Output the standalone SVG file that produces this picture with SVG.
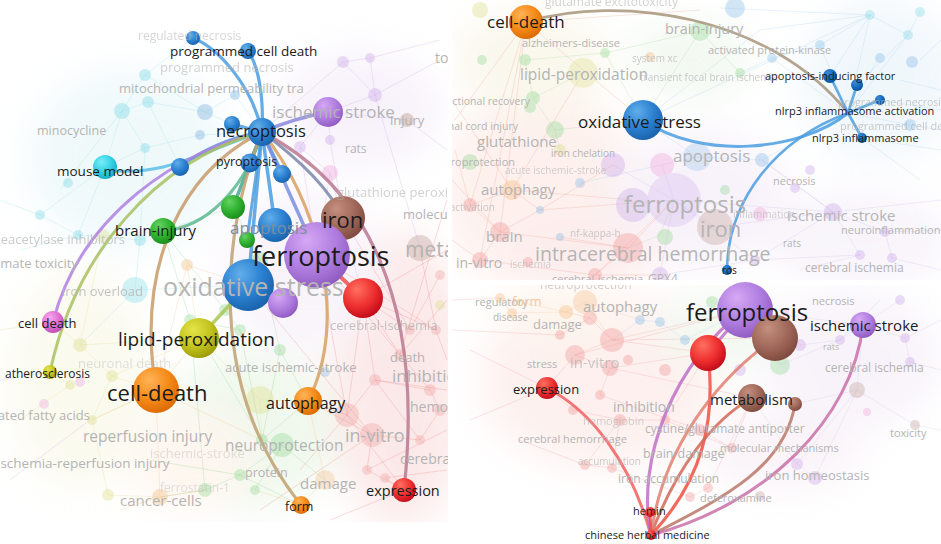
<svg xmlns="http://www.w3.org/2000/svg" width="941" height="544" viewBox="0 0 941 544">
<defs>
<style>
.lb{font-family:"Open Sans","DejaVu Sans",sans-serif;fill:#1b1b1b}
.fd{font-family:"Open Sans","DejaVu Sans",sans-serif;fill:#b4b4b4}
.e{fill:none;stroke-linecap:round;opacity:.85}
.bl{fill:none;stroke-width:.8;opacity:.35}
.fc{opacity:.35}
.hz{opacity:.45}
</style>
<filter id="blur" x="-50%" y="-50%" width="200%" height="200%"><feGaussianBlur stdDeviation="18"/></filter>
<clipPath id="cL"><rect x="0" y="0" width="448" height="522"/></clipPath>
<clipPath id="cTR"><rect x="452" y="0" width="489" height="280"/></clipPath>
<clipPath id="cBR"><rect x="452" y="285" width="489" height="259"/></clipPath>
<radialGradient id="gB" cx=".38" cy=".32" r=".75" fx=".35" fy=".28"><stop offset="0" stop-color="#62aeea"/><stop offset=".55" stop-color="#2a80d0"/><stop offset="1" stop-color="#185ea6"/></radialGradient>
<radialGradient id="gDB" cx=".38" cy=".32" r=".75" fx=".35" fy=".28"><stop offset="0" stop-color="#3b8ad6"/><stop offset=".6" stop-color="#1466bc"/><stop offset="1" stop-color="#0a4a90"/></radialGradient>
<radialGradient id="gP" cx=".38" cy=".32" r=".75" fx=".35" fy=".28"><stop offset="0" stop-color="#d6a8f4"/><stop offset=".55" stop-color="#b07ee0"/><stop offset="1" stop-color="#8c56bc"/></radialGradient>
<radialGradient id="gBr" cx=".38" cy=".32" r=".75" fx=".35" fy=".28"><stop offset="0" stop-color="#c4907e"/><stop offset=".55" stop-color="#a0685a"/><stop offset="1" stop-color="#7a463a"/></radialGradient>
<radialGradient id="gR" cx=".38" cy=".32" r=".75" fx=".35" fy=".28"><stop offset="0" stop-color="#ff7060"/><stop offset=".55" stop-color="#ee3030"/><stop offset="1" stop-color="#bc0616"/></radialGradient>
<radialGradient id="gO" cx=".38" cy=".32" r=".75" fx=".35" fy=".28"><stop offset="0" stop-color="#ffb458"/><stop offset=".55" stop-color="#f58a18"/><stop offset="1" stop-color="#d86600"/></radialGradient>
<radialGradient id="gG" cx=".38" cy=".32" r=".75" fx=".35" fy=".28"><stop offset="0" stop-color="#62d462"/><stop offset=".55" stop-color="#2fb02f"/><stop offset="1" stop-color="#188818"/></radialGradient>
<radialGradient id="gY" cx=".38" cy=".32" r=".75" fx=".35" fy=".28"><stop offset="0" stop-color="#e4e448"/><stop offset=".55" stop-color="#c4c420"/><stop offset="1" stop-color="#969606"/></radialGradient>
<radialGradient id="gC" cx=".38" cy=".32" r=".75" fx=".35" fy=".28"><stop offset="0" stop-color="#78eef6"/><stop offset=".55" stop-color="#36d0e6"/><stop offset="1" stop-color="#14a6be"/></radialGradient>
<radialGradient id="gPk" cx=".38" cy=".32" r=".75" fx=".35" fy=".28"><stop offset="0" stop-color="#f6a8ee"/><stop offset=".55" stop-color="#e070d4"/><stop offset="1" stop-color="#bc48b0"/></radialGradient>
</defs>
<rect width="941" height="544" fill="#fff"/>

<!-- ============ LEFT PANEL BACKGROUND ============ -->
<g id="bg-left" clip-path="url(#cL)">
 <g filter="url(#blur)" class="hz">
  <ellipse cx="400" cy="380" rx="70" ry="150" fill="#f8d0d0"/>
  <ellipse cx="250" cy="430" rx="90" ry="80" fill="#dff0d8"/>
  <ellipse cx="130" cy="160" rx="100" ry="90" fill="#ddf3f6"/>
  <ellipse cx="360" cy="110" rx="80" ry="60" fill="#efe4f6"/>
  <ellipse cx="80" cy="380" rx="70" ry="110" fill="#f6f4dc"/>
  <ellipse cx="190" cy="460" rx="60" ry="50" fill="#fcecdc"/>
  <ellipse cx="300" cy="270" rx="80" ry="80" fill="#f1e8f6"/>
 </g>
 <path class="bl" stroke="#f08080" d="M363,298 L410,330 M363,298 L400,355 M363,298 L436,330 M363,298 L375,380 M375,380 L347,415 M375,380 L430,390 M347,415 L372,435 M372,435 L420,440 M372,435 L367,470 M367,470 L404,490 M385,478 L404,490 M420,440 L440,410 M430,390 L440,410 M400,355 L430,390 M347,415 L300,470 M372,435 L260,510 M404,490 L330,520 M410,330 L440,275 M436,330 L447,360 M317,255 L400,355 M317,255 L436,330 M343,218 L410,330 M347,415 L404,490 M375,380 L420,440 M420,250 L436,330 M363,298 L347,415 M317,255 L347,415 M248,285 L372,435 M400,355 L447,300 M385,478 L447,470 M367,470 L447,430 M308,401 L347,415 M308,401 L372,435 M447,250 L363,298 M447,200 L400,355 M447,390 L375,380"/>
 <path class="bl" stroke="#8fd08f" d="M233,207 L260,260 M260,260 L225,310 M225,310 L240,330 M240,330 L190,320 M260,260 L280,350 M280,350 L262,440 M262,440 L282,445 M282,445 L240,475 M240,475 L205,490 M255,490 L282,445 M163,231 L190,320 M163,231 L225,310 M247,240 L260,260 M240,330 L262,440 M190,320 L205,490 M282,445 L325,480 M262,440 L308,401 M225,310 L199,338 M280,350 L308,401 M240,475 L300,505 M205,490 L160,497 M233,207 L163,231 M190,320 L262,440 M150,460 L240,475"/>
 <path class="bl" stroke="#9adfe8" d="M145,75 L122,111 M122,111 L148,102 M148,102 L205,112 M205,112 L235,95 M122,111 L145,148 M145,148 L200,135 M200,135 L262,132 M105,167 L145,148 M40,215 L78,235 M78,235 L140,240 M140,240 L135,290 M105,167 L40,215 M105,167 L78,235 M145,148 L140,240 M135,290 L248,285 M122,111 L105,167 M235,95 L262,132 M145,75 L193,38 M205,112 L232,124 M20,250 L78,235 M0,200 L40,215 M135,290 L80,345 M140,240 L163,231 M148,102 L180,167 M145,75 L205,112 M60,190 L122,111"/>
 <path class="bl" stroke="#c8a8e0" d="M343,62 L370,58 M343,62 L375,95 M370,58 L375,95 M375,95 L328,112 M300,147 L328,112 M330,140 L328,112 M375,95 L440,60 M370,58 L440,40 M328,112 L407,120 M300,147 L317,255 M330,140 L343,218 M375,95 L420,248 M330,173 L317,255 M343,62 L262,132 M407,120 L447,150 M330,173 L300,147 M330,173 L363,298 M10,480 L90,420 M0,380 L50,372"/>
 <path class="bl" stroke="#dede90" d="M103,236 L80,345 M80,345 L112,376 M112,376 L92,420 M92,420 L108,495 M70,385 L50,372 M112,376 L156,390 M80,345 L53,322 M199,338 L260,400 M260,400 L308,401 M103,236 L163,231 M92,420 L156,390 M108,495 L160,497 M199,338 L112,376 M260,400 L262,440 M70,385 L20,420 M0,330 L53,322 M80,345 L199,338"/>
 <path class="bl" stroke="#f5c088" d="M187,265 L199,338 M187,265 L156,390 M156,390 L160,497 M160,497 L205,490 M156,390 L199,338 M325,480 L301,505 M325,480 L308,401 M187,265 L248,285 M160,497 L120,510 M156,390 L262,440 M301,505 L255,490 M156,390 L92,420"/>
 <g class="fc">
  <circle cx="145" cy="75" r="6" fill="#6fd6e4"/><circle cx="122" cy="111" r="8" fill="#6fd6e4"/><circle cx="148" cy="102" r="6" fill="#6fd6e4"/><circle cx="205" cy="112" r="8" fill="#6aa8d8"/><circle cx="235" cy="95" r="5" fill="#6aa8d8"/><circle cx="145" cy="148" r="5" fill="#6fd6e4"/><circle cx="200" cy="135" r="5" fill="#6aa8d8"/><circle cx="135" cy="290" r="13" fill="#7fdcea"/><circle cx="40" cy="215" r="5" fill="#6fd6e4"/><circle cx="78" cy="235" r="5" fill="#6fd6e4"/><circle cx="140" cy="240" r="6" fill="#6fd6e4"/><circle cx="68" cy="183" r="5" fill="#6fd6e4"/>
  <circle cx="343" cy="62" r="6" fill="#c8a0e8"/><circle cx="370" cy="58" r="5" fill="#c8a0e8"/><circle cx="375" cy="95" r="7" fill="#c8a0e8"/><circle cx="300" cy="147" r="6" fill="#c8a0e8"/><circle cx="330" cy="140" r="5" fill="#c8a0e8"/><circle cx="330" cy="173" r="8" fill="#f09ad8"/><circle cx="407" cy="120" r="7" fill="#b08878"/><circle cx="420" cy="248" r="13" fill="#b89890"/>
  <circle cx="260" cy="260" r="8" fill="#8ed88e"/><circle cx="225" cy="310" r="6" fill="#8ed88e"/><circle cx="240" cy="330" r="6" fill="#8ed88e"/><circle cx="190" cy="320" r="6" fill="#8ed88e"/><circle cx="280" cy="350" r="6" fill="#8ed88e"/><circle cx="262" cy="440" r="6" fill="#8ed88e"/><circle cx="282" cy="445" r="12" fill="#8ed88e"/><circle cx="240" cy="475" r="6" fill="#8ed88e"/><circle cx="205" cy="490" r="7" fill="#8ed88e"/><circle cx="255" cy="490" r="5" fill="#8ed88e"/>
  <circle cx="347" cy="415" r="12" fill="#f0a0a0"/><circle cx="372" cy="435" r="12" fill="#f0a0a0"/><circle cx="375" cy="380" r="6" fill="#f0a0a0"/><circle cx="400" cy="355" r="6" fill="#f0a0a0"/><circle cx="410" cy="330" r="5" fill="#f0a0a0"/><circle cx="367" cy="470" r="5" fill="#f0a0a0"/><circle cx="430" cy="390" r="6" fill="#f0a0a0"/><circle cx="440" cy="410" r="6" fill="#f0a0a0"/><circle cx="420" cy="440" r="5" fill="#f0a0a0"/><circle cx="385" cy="478" r="5" fill="#f0a0a0"/><circle cx="436" cy="330" r="5" fill="#f0a0a0"/><circle cx="440" cy="275" r="5" fill="#f0a0a0"/><circle cx="440" cy="305" r="5" fill="#dcdc80"/>
  <circle cx="260" cy="400" r="14" fill="#dcdc80"/><circle cx="103" cy="236" r="7" fill="#dcdc80"/><circle cx="80" cy="345" r="7" fill="#dcdc80"/><circle cx="112" cy="376" r="6" fill="#dcdc80"/><circle cx="92" cy="420" r="5" fill="#dcdc80"/><circle cx="108" cy="495" r="6" fill="#dcdc80"/><circle cx="70" cy="385" r="5" fill="#dcdc80"/><circle cx="80" cy="382" r="5" fill="#f0a0e0"/><circle cx="44" cy="404" r="5" fill="#f0a0e0"/>
  <circle cx="187" cy="265" r="6" fill="#f5b878"/><circle cx="160" cy="497" r="8" fill="#f5b878"/><circle cx="325" cy="480" r="10" fill="#f5c090"/><circle cx="325" cy="372" r="5" fill="#80b8e8"/>
 </g>
</g>

<!-- ============ TOP RIGHT BACKGROUND ============ -->
<g id="bg-topright" clip-path="url(#cTR)">
 <g filter="url(#blur)" class="hz">
  <ellipse cx="540" cy="190" rx="100" ry="100" fill="#fbe0d8"/>
  <ellipse cx="530" cy="60" rx="80" ry="50" fill="#f4f0d8"/>
  <ellipse cx="700" cy="200" rx="90" ry="70" fill="#f0e4f4"/>
  <ellipse cx="880" cy="80" rx="80" ry="80" fill="#e0eef8"/>
  <ellipse cx="860" cy="240" rx="90" ry="50" fill="#f0e8f6"/>
  <ellipse cx="690" cy="60" rx="60" ry="40" fill="#e4f2e0"/>
  <ellipse cx="580" cy="255" rx="80" ry="40" fill="#fad8d8"/>
 </g>
 <path class="bl" stroke="#f0a090" d="M470,205 L500,232 M500,232 L480,260 M500,232 L540,210 M540,210 L512,190 M470,205 L512,190 M480,260 L595,275 M500,232 L628,248 M628,248 L595,275 M628,248 L674,200 M512,190 L583,73 M470,205 L455,150 M480,260 L452,240 M595,275 L660,275 M628,248 L560,237 M540,210 L613,165 M500,232 L526,22 M480,260 L526,22 M455,120 L526,22 M470,205 L526,22 M512,190 L633,200 M540,210 L674,200 M595,275 L674,200 M452,180 L500,232 M452,100 L512,190 M526,22 L643,120 M526,22 L700,10"/>
 <path class="bl" stroke="#a8d8a0" d="M525,60 L533,98 M533,98 L555,130 M555,130 L560,150 M525,60 L605,53 M605,53 L700,31 M700,31 L740,73 M555,130 L643,120 M605,53 L643,120 M660,235 L674,200 M660,235 L628,248 M533,98 L583,73 M700,31 L643,120"/>
 <path class="bl" stroke="#a8d0f0" d="M870,15 L908,35 M908,35 L920,12 M870,15 L820,45 M820,45 L772,58 M772,58 L740,73 M848,113 L870,15 M848,113 L820,45 M848,113 L908,35 M848,113 L772,58 M880,55 L848,113 M697,157 L762,160 M762,160 L848,113 M697,157 L643,120 M697,157 L580,183 M920,60 L941,40 M900,80 L941,90 M830,76 L870,15 M857,85 L908,35 M880,100 L941,110 M862,138 L941,150 M862,138 L920,180 M762,160 L833,212 M643,120 L870,15 M643,120 L760,30 M760,30 L870,15 M720,8 L870,15 M910,125 L941,130 M910,125 L848,113"/>
 <path class="bl" stroke="#d4b8e8" d="M833,212 L885,232 M885,232 L892,258 M860,255 L833,212 M833,212 L755,260 M755,260 L674,200 M833,212 L674,200 M833,212 L941,200 M892,258 L941,270 M860,255 L755,260 M674,200 L613,165 M674,200 L660,275 M660,275 L755,260 M833,212 L762,160 M885,232 L941,230 M800,270 L860,255 M715,227 L833,212 M715,227 L674,200 M662,165 L674,200"/>
 <g class="fc">
  <circle cx="480" cy="10" r="8" fill="#dcdc80"/><circle cx="482" cy="60" r="5" fill="#8ed88e"/><circle cx="525" cy="60" r="6" fill="#8ed88e"/><circle cx="533" cy="98" r="7" fill="#8ed88e"/><circle cx="583" cy="73" r="15" fill="#e0e090"/><circle cx="605" cy="53" r="5" fill="#8ed88e"/><circle cx="650" cy="57" r="5" fill="#f5b878"/><circle cx="700" cy="31" r="10" fill="#8ed88e"/><circle cx="740" cy="73" r="5" fill="#8ed88e"/><circle cx="772" cy="58" r="5" fill="#80b8e8"/><circle cx="820" cy="45" r="5" fill="#80c0e8"/><circle cx="735" cy="8" r="10" fill="#80b8e8"/><circle cx="870" cy="15" r="5" fill="#80d8e8"/><circle cx="908" cy="35" r="5" fill="#80d8e8"/><circle cx="920" cy="12" r="5" fill="#80d8e8"/><circle cx="910" cy="125" r="6" fill="#80b8e8"/><circle cx="912" cy="62" r="6" fill="#80b8e8"/><circle cx="880" cy="58" r="5" fill="#80b8e8"/>
  <circle cx="555" cy="130" r="9" fill="#8ed88e"/><circle cx="530" cy="107" r="6" fill="#8ed88e"/><circle cx="470" cy="162" r="8" fill="#8ed88e"/><circle cx="560" cy="150" r="6" fill="#dcdc80"/><circle cx="580" cy="183" r="5" fill="#80b8e8"/><circle cx="613" cy="165" r="12" fill="#c8a0e8"/><circle cx="662" cy="165" r="12" fill="#f0a0d8"/><circle cx="697" cy="157" r="14" fill="#a0c8ea"/><circle cx="762" cy="160" r="7" fill="#80b8e8"/><circle cx="674" cy="200" r="27" fill="#d4b8ec"/><circle cx="633" cy="205" r="17" fill="#c8a8e8"/><circle cx="725" cy="190" r="5" fill="#8ed88e"/><circle cx="665" cy="237" r="8" fill="#8ed88e"/><circle cx="715" cy="227" r="18" fill="#c0a098"/><circle cx="628" cy="248" r="15" fill="#f09090"/><circle cx="560" cy="237" r="4" fill="#80b8e8"/><circle cx="540" cy="210" r="4" fill="#80b8e8"/><circle cx="512" cy="190" r="10" fill="#f5b878"/><circle cx="470" cy="205" r="7" fill="#f09090"/><circle cx="500" cy="232" r="10" fill="#f09090"/><circle cx="480" cy="260" r="8" fill="#f09090"/><circle cx="595" cy="275" r="7" fill="#f09090"/><circle cx="528" cy="262" r="5" fill="#f09090"/>
  <circle cx="760" cy="214" r="7" fill="#f0a0d8"/><circle cx="833" cy="212" r="9" fill="#c8a0e8"/><circle cx="885" cy="232" r="5" fill="#c8a0e8"/><circle cx="860" cy="255" r="5" fill="#c8a0e8"/><circle cx="892" cy="258" r="5" fill="#c8a0e8"/><circle cx="755" cy="260" r="5" fill="#c8a0e8"/><circle cx="660" cy="275" r="8" fill="#c8a0e8"/><circle cx="795" cy="188" r="5" fill="#c8a0e8"/><circle cx="810" cy="170" r="5" fill="#c8a0e8"/>
 </g>
</g>

<!-- ============ BOTTOM RIGHT BACKGROUND ============ -->
<g id="bg-bottomright" clip-path="url(#cBR)">
 <g filter="url(#blur)" class="hz">
  <ellipse cx="600" cy="380" rx="120" ry="90" fill="#fbe0dc"/>
  <ellipse cx="560" cy="310" rx="60" ry="30" fill="#fbead8"/>
  <ellipse cx="850" cy="360" rx="90" ry="70" fill="#f0e6f4"/>
  <ellipse cx="720" cy="330" rx="60" ry="40" fill="#e4f0e0"/>
  <ellipse cx="780" cy="450" rx="80" ry="40" fill="#f4e6f0"/>
 </g>
 <path class="bl" stroke="#f0a0a0" d="M547,388 L575,355 M575,355 L612,340 M612,340 L708,353 M575,355 L610,368 M610,368 L708,353 M590,318 L612,340 M547,388 L573,410 M573,410 L620,420 M620,420 L665,420 M665,420 L708,353 M600,395 L610,368 M620,420 L585,465 M585,465 L612,468 M612,468 L690,497 M690,497 L708,488 M708,488 L752,398 M560,335 L590,318 M566,312 L590,318 M612,340 L745,310 M575,355 L745,310 M547,388 L470,350 M547,388 L470,420 M520,440 L585,465 M700,430 L732,448 M732,448 L752,398 M665,420 L732,448 M600,395 L700,430 M452,330 L560,335 M452,300 L500,298 M620,420 L612,468 M612,340 L775,338 M610,368 L752,398"/>
 <path class="bl" stroke="#f5c8a0" d="M500,298 L512,313 M512,313 L566,312 M566,312 L585,302 M585,302 L640,320 M500,298 L566,312 M585,302 L612,340"/>
 <path class="bl" stroke="#d8c0e8" d="M863,325 L905,338 M905,338 L910,362 M863,325 L900,300 M863,325 L840,340 M840,340 L800,345 M800,345 L775,338 M863,325 L857,390 M857,390 L915,425 M857,390 L797,464 M797,464 L815,478 M815,478 L857,390 M910,362 L941,370 M905,338 L941,320 M863,325 L745,310 M857,390 L795,404 M915,425 L941,430 M780,365 L745,310 M780,365 L840,340 M797,464 L752,398"/>
 <path class="bl" stroke="#b0d0f0" d="M640,320 L660,322 M660,322 L685,340 M685,340 L745,310 M640,320 L612,340 M840,340 L880,300"/>
 <g class="fc">
  <circle cx="500" cy="298" r="5" fill="#f5b878"/><circle cx="512" cy="313" r="5" fill="#f5b878"/><circle cx="566" cy="312" r="7" fill="#f5b878"/><circle cx="585" cy="302" r="12" fill="#f5c090"/><circle cx="590" cy="318" r="7" fill="#f09090"/><circle cx="640" cy="320" r="5" fill="#80b8e8"/><circle cx="660" cy="322" r="5" fill="#80b8e8"/><circle cx="685" cy="340" r="5" fill="#80b8e8"/><circle cx="712" cy="302" r="6" fill="#8ed88e"/><circle cx="612" cy="340" r="12" fill="#f09090"/><circle cx="560" cy="335" r="5" fill="#f09090"/><circle cx="575" cy="355" r="10" fill="#f09090"/><circle cx="610" cy="368" r="8" fill="#f09090"/><circle cx="628" cy="360" r="5" fill="#f09090"/><circle cx="665" cy="370" r="6" fill="#f09090"/><circle cx="800" cy="345" r="6" fill="#c8a0e8"/><circle cx="840" cy="340" r="5" fill="#c8a0e8"/><circle cx="905" cy="338" r="5" fill="#c8a0e8"/><circle cx="910" cy="362" r="5" fill="#c8a0e8"/><circle cx="900" cy="300" r="5" fill="#c8a0e8"/><circle cx="780" cy="365" r="10" fill="#8ed88e"/><circle cx="740" cy="370" r="6" fill="#c8a0e8"/><circle cx="573" cy="410" r="5" fill="#f09090"/><circle cx="600" cy="395" r="5" fill="#f09090"/><circle cx="620" cy="420" r="6" fill="#f09090"/><circle cx="665" cy="420" r="5" fill="#f09090"/><circle cx="700" cy="430" r="6" fill="#f09090"/><circle cx="732" cy="448" r="5" fill="#f09090"/><circle cx="857" cy="390" r="8" fill="#c0a098"/><circle cx="915" cy="425" r="5" fill="#c0a098"/><circle cx="797" cy="464" r="6" fill="#c8a0e8"/><circle cx="815" cy="478" r="7" fill="#c8a0e8"/><circle cx="585" cy="465" r="5" fill="#f09090"/><circle cx="612" cy="468" r="5" fill="#f09090"/><circle cx="708" cy="488" r="5" fill="#f09090"/><circle cx="690" cy="497" r="5" fill="#f09090"/><circle cx="760" cy="496" r="5" fill="#c0a098"/><circle cx="785" cy="312" r="4" fill="#f0a0d8"/><circle cx="867" cy="412" r="4" fill="#f0a0d8"/>
 </g>
</g>

<!-- ============ CONNECTORS ============ -->
<g id="connectors">
 <g clip-path="url(#cL)">
  <path class="e" stroke="#4a9ee0" stroke-width="3.2" d="M262,132 C252,85 218,48 193,38"/>
  <path class="e" stroke="#4a9ee0" stroke-width="3.2" d="M262,132 C264,95 258,65 248,51"/>
  <path class="e" stroke="#8a88dc" stroke-width="3.5" d="M262,132 Q295,118 328,112"/>
  <path class="e" stroke="#4a9ee0" stroke-width="3" d="M262,132 L232,124"/>
  <path class="e" stroke="#5cc0e8" stroke-width="3" d="M262,132 C205,150 165,178 105,170"/>
  <path class="e" stroke="#4a9ee0" stroke-width="3" d="M262,132 Q215,140 180,167"/>
  <path class="e" stroke="#4a9ee0" stroke-width="3.5" d="M262,132 L250,163"/>
  <path class="e" stroke="#4a9ee0" stroke-width="3.5" d="M262,132 L282,173"/>
  <path class="e" stroke="#48a890" stroke-width="3.5" d="M262,132 L233,207"/>
  <path class="e" stroke="#4a9ee0" stroke-width="3.5" d="M262,132 L275,225"/>
  <path class="e" stroke="#7a88a8" stroke-width="3" d="M262,132 C300,160 330,190 343,218"/>
  <path class="e" stroke="#7a8ee0" stroke-width="3.5" d="M262,132 L317,255"/>
  <path class="e" stroke="#4a9ee0" stroke-width="3.5" d="M262,132 L248,285"/>
  <path class="e" stroke="#4a9ee0" stroke-width="3" d="M262,132 L247,240"/>
  <path class="e" stroke="#5cb890" stroke-width="3.2" d="M262,132 C245,190 205,228 163,231"/>
  <path class="e" stroke="#c89a6a" stroke-width="3.2" d="M262,132 C185,170 135,260 156,390"/>
  <path class="e" stroke="#c0a070" stroke-width="3.2" d="M262,132 C222,230 205,385 301,505"/>
  <path class="e" stroke="#d8a060" stroke-width="3.2" d="M262,132 C318,200 350,320 308,401"/>
  <path class="e" stroke="#b87890" stroke-width="3.2" d="M262,132 C365,185 425,300 404,490"/>
  <path class="e" stroke="#b080e0" stroke-width="3" d="M262,132 C180,150 80,215 53,322"/>
  <path class="e" stroke="#a8c060" stroke-width="3" d="M262,132 C155,160 75,255 50,372"/>
  <path class="e" stroke="#a8c858" stroke-width="3.5" d="M199,338 L248,285"/>
  <path class="e" stroke="#f05050" stroke-width="4" d="M317,255 L363,298"/>
 </g>
 <g clip-path="url(#cTR)">
  <path class="e" stroke="#a8947a" stroke-width="2.6" d="M526,22 C620,-6 770,15 848,113"/>
  <path class="e" stroke="#4a9ee0" stroke-width="3" d="M643,120 C700,160 800,152 848,113"/>
  <path class="e" stroke="#4a9ee0" stroke-width="2.6" d="M848,113 L830,76"/>
  <path class="e" stroke="#4a9ee0" stroke-width="2.6" d="M848,113 L857,85"/>
  <path class="e" stroke="#4a9ee0" stroke-width="2.6" d="M848,113 L880,100"/>
  <path class="e" stroke="#4a9ee0" stroke-width="2.6" d="M848,113 L862,138"/>
  <path class="e" stroke="#4a9ee0" stroke-width="2.6" d="M727,270 C728,200 775,140 848,113"/>
 </g>
 <g clip-path="url(#cBR)">
  <path class="e" stroke="#f06060" stroke-width="3" d="M651,535 C630,460 590,410 547,388"/>
  <path class="e" stroke="#c070c8" stroke-width="3.2" d="M651,535 C635,460 675,360 745,310"/>
  <path class="e" stroke="#f05040" stroke-width="3.2" d="M708,353 C716,420 703,480 651,535"/>
  <path class="e" stroke="#d06858" stroke-width="3" d="M651,535 C675,470 712,420 752,398"/>
  <path class="e" stroke="#e08070" stroke-width="3" d="M651,535 C662,450 715,380 775,338"/>
  <path class="e" stroke="#b87868" stroke-width="3" d="M651,535 C730,495 785,465 795,404"/>
  <path class="e" stroke="#c870a8" stroke-width="3" d="M651,535 C765,505 852,420 863,325"/>
  <path class="e" stroke="#f05040" stroke-width="3" d="M651,535 L650,512"/>
  <path class="e" stroke="#c070c8" stroke-width="3" d="M708,353 L745,310"/>
 </g>
</g>

<!-- ============ NODES: LEFT ============ -->
<g id="node-regulated-necrosis"><circle cx="193" cy="38" r="7" fill="url(#gB)"/></g>
<g id="node-programmed-cell-death"><circle cx="248" cy="51" r="8" fill="url(#gB)"/></g>
<g id="node-ischemic-stroke-l"><circle cx="328" cy="112" r="15" fill="url(#gP)"/></g>
<g id="node-b1"><circle cx="232" cy="124" r="8" fill="url(#gB)"/></g>
<g id="node-mouse-model"><circle cx="105" cy="167" r="12" fill="url(#gC)"/></g>
<g id="node-b2"><circle cx="180" cy="167" r="9" fill="url(#gB)"/></g>
<g id="node-pyroptosis"><circle cx="250" cy="163" r="9.5" fill="url(#gB)"/></g>
<g id="node-b3"><circle cx="282" cy="174" r="9" fill="url(#gB)"/></g>
<g id="node-g1"><circle cx="233" cy="207" r="12" fill="url(#gG)"/></g>
<g id="node-brain-injury"><circle cx="163" cy="231" r="13" fill="url(#gG)"/></g>
<g id="node-apoptosis"><circle cx="275" cy="225" r="17" fill="url(#gB)"/></g>
<g id="node-g2"><circle cx="247" cy="240" r="8" fill="url(#gG)"/></g>
<g id="node-iron"><circle cx="343" cy="218" r="22" fill="url(#gBr)"/></g>
<g id="node-oxidative-stress"><circle cx="248" cy="285" r="26" fill="url(#gB)"/></g>
<g id="node-ferroptosis"><circle cx="317" cy="255" r="33" fill="url(#gP)"/></g>
<g id="node-p2"><circle cx="283" cy="303" r="15" fill="url(#gP)"/></g>
<g id="node-r1"><circle cx="363" cy="298" r="20" fill="url(#gR)"/></g>
<g id="node-necroptosis"><circle cx="262" cy="132" r="14" fill="url(#gB)"/></g>
<g id="node-cell-death-pink"><circle cx="53" cy="322" r="11" fill="url(#gPk)"/></g>
<g id="node-lipid-peroxidation"><circle cx="199" cy="338" r="20" fill="url(#gY)"/></g>
<g id="node-atherosclerosis"><circle cx="50" cy="372" r="7" fill="url(#gY)"/></g>
<g id="node-cell-death"><circle cx="156" cy="390" r="23" fill="url(#gO)"/></g>
<g id="node-autophagy"><circle cx="308" cy="401" r="14" fill="url(#gO)"/></g>
<g id="node-expression-l"><circle cx="404" cy="490" r="12" fill="url(#gR)"/></g>
<g id="node-form"><circle cx="301" cy="505" r="9" fill="url(#gO)"/></g>

<!-- ============ NODES: TOP RIGHT ============ -->
<g id="node-cell-death-tr"><circle cx="526" cy="22" r="17" fill="url(#gO)"/></g>
<g id="node-oxidative-stress-tr"><circle cx="643" cy="120" r="20" fill="url(#gB)"/></g>
<g id="node-apoptosis-inducing-factor"><circle cx="830" cy="76" r="7" fill="url(#gDB)"/></g>
<g id="node-tr2"><circle cx="857" cy="85" r="6" fill="url(#gDB)"/></g>
<g id="node-nlrp3-activation"><circle cx="880" cy="100" r="5" fill="url(#gDB)"/></g>
<g id="node-nlrp3-inflammasome"><circle cx="862" cy="138" r="5" fill="url(#gDB)"/></g>
<g id="node-ros"><circle cx="727" cy="270" r="5" fill="url(#gDB)"/></g>

<!-- ============ NODES: BOTTOM RIGHT ============ -->
<g id="node-ferroptosis-br"><circle cx="745" cy="310" r="28" fill="url(#gP)"/></g>
<g id="node-iron-br"><circle cx="775" cy="338" r="23" fill="url(#gBr)"/></g>
<g id="node-red-br"><circle cx="708" cy="353" r="18" fill="url(#gR)"/></g>
<g id="node-ischemic-stroke-br"><circle cx="863" cy="325" r="13" fill="url(#gP)"/></g>
<g id="node-expression-br"><circle cx="547" cy="388" r="11" fill="url(#gR)"/></g>
<g id="node-metabolism"><circle cx="752" cy="398" r="14" fill="url(#gBr)"/></g>
<g id="node-brown-small"><circle cx="795" cy="404" r="7" fill="url(#gBr)"/></g>
<g id="node-hemin"><circle cx="650" cy="512" r="5" fill="url(#gR)"/></g>
<g id="node-chinese-herbal-medicine"><circle cx="651" cy="535" r="5" fill="url(#gR)"/></g>

<!-- ============ FADED LABELS ============ -->
<g id="faded-left" clip-path="url(#cL)">
 <text class="fd" x="138" y="40" font-size="12" opacity=".55">regulated necrosis</text>
 <text class="fd" x="160" y="72" font-size="13" opacity=".6">programmed necrosis</text>
 <text class="fd" x="119" y="93" font-size="13">mitochondrial permeability tra</text>
 <text class="fd" x="435" y="63" font-size="14">to</text>
 <text class="fd" x="272" y="118" font-size="17">ischemic stroke</text>
 <text class="fd" x="390" y="125" font-size="13">injury</text>
 <text class="fd" x="37" y="135" font-size="12.5">minocycline</text>
 <text class="fd" x="345" y="153" font-size="12">rats</text>
 <text class="fd" x="337" y="197" font-size="13" opacity=".6">glutathione peroxidase</text>
 <text class="fd" x="403" y="219" font-size="13">molecular</text>
 <text class="fd" x="125" y="244" font-size="13" text-anchor="end" opacity=".7">histone deacetylase inhibitors</text>
 <text class="fd" x="78" y="268" font-size="13" text-anchor="end">glutamate toxicity</text>
 <text class="fd" x="62" y="296" font-size="13" opacity=".8">iron overload</text>
 <text class="fd" x="163" y="296" font-size="25">oxidative stress</text>
 <text class="fd" x="405" y="257" font-size="21">metabolism</text>
 <text class="fd" x="330" y="330" font-size="13" opacity=".8">cerebral-ischemia</text>
 <text class="fd" x="390" y="362" font-size="13">death</text>
 <text class="fd" x="78" y="368" font-size="13" opacity=".4">neuronal death</text>
 <text class="fd" x="225" y="372" font-size="13">acute ischemic-stroke</text>
 <text class="fd" x="392" y="382" font-size="17">inhibition</text>
 <text class="fd" x="90" y="420" font-size="13" text-anchor="end">polyunsaturated fatty acids</text>
 <text class="fd" x="410" y="412" font-size="14">hemoglobin</text>
 <text class="fd" x="83" y="442" font-size="15.5">reperfusion injury</text>
 <text class="fd" x="345" y="442" font-size="18">in-vitro</text>
 <text class="fd" x="225" y="451" font-size="15.5">neuroprotection</text>
 <text class="fd" x="150" y="458" font-size="13" opacity=".4">ischemic-stroke</text>
 <text class="fd" x="-3" y="468" font-size="13.5">ischemia-reperfusion injury</text>
 <text class="fd" x="400" y="464" font-size="14">cerebral</text>
 <text class="fd" x="245" y="477" font-size="12.5">protein</text>
 <text class="fd" x="160" y="492" font-size="12" opacity=".4">ferrostatin-1</text>
 <text class="fd" x="300" y="489" font-size="15">damage</text>
 <text class="fd" x="120" y="506" font-size="15">cancer-cells</text>
</g>
<g id="faded-topright" clip-path="url(#cTR)">
 <text class="fd" x="545" y="6" font-size="12" opacity=".6">glutamate excitotoxicity</text>
 <text class="fd" x="665" y="34" font-size="14.5">brain-injury</text>
 <text class="fd" x="522" y="47" font-size="11">alzheimers-disease</text>
 <text class="fd" x="708" y="54" font-size="11">activated protein-kinase</text>
 <text class="fd" x="632" y="62" font-size="10" opacity=".7">system xc</text>
 <text class="fd" x="520" y="80" font-size="15.5">lipid-peroxidation</text>
 <text class="fd" x="640" y="81" font-size="10" opacity=".7">transient focal brain ischemia</text>
 <text class="fd" x="530" y="105" font-size="10.5" text-anchor="end">functional recovery</text>
 <text class="fd" x="838" y="106" font-size="10.5" opacity=".7">programmed necrosis</text>
 <text class="fd" x="518" y="130" font-size="10.5" text-anchor="end">spinal cord injury</text>
 <text class="fd" x="840" y="130" font-size="11" opacity=".7">programmed cell death</text>
 <text class="fd" x="477" y="147" font-size="15">glutathione</text>
 <text class="fd" x="551" y="157" font-size="10">iron chelation</text>
 <text class="fd" x="673" y="162" font-size="17">apoptosis</text>
 <text class="fd" x="515" y="166" font-size="11" text-anchor="end">neuroprotection</text>
 <text class="fd" x="505" y="174" font-size="10" opacity=".6">acute ischemic-stroke</text>
 <text class="fd" x="773" y="185" font-size="11">necrosis</text>
 <text class="fd" x="481" y="195" font-size="15">autophagy</text>
 <text class="fd" x="495" y="211" font-size="10" text-anchor="end" opacity=".7">activation</text>
 <text class="fd" x="624" y="213" font-size="24">ferroptosis</text>
 <text class="fd" x="733" y="218" font-size="10" opacity=".6">inflammation</text>
 <text class="fd" x="787" y="221" font-size="15">ischemic stroke</text>
 <text class="fd" x="841" y="234" font-size="11">neuroinflammation</text>
 <text class="fd" x="700" y="237" font-size="22">iron</text>
 <text class="fd" x="486" y="242" font-size="15">brain</text>
 <text class="fd" x="570" y="237" font-size="10" opacity=".7">nf-kappa-b</text>
 <text class="fd" x="783" y="247" font-size="10">rats</text>
 <text class="fd" x="535" y="261" font-size="19.5">intracerebral hemorrhage</text>
 <text class="fd" x="456" y="268" font-size="14">in-vitro</text>
 <text class="fd" x="510" y="268" font-size="10" opacity=".6">ischemia</text>
 <text class="fd" x="805" y="272" font-size="12">cerebral ischemia</text>
 <text class="fd" x="552" y="283" font-size="11">cerebral-ischemia</text>
 <text class="fd" x="648" y="283" font-size="12">GPX4</text>
</g>
<g id="faded-bottomright" clip-path="url(#cBR)">
 <text class="fd" x="540" y="289" font-size="12" opacity=".6">neuroprotection</text>
 <text class="fd" x="475" y="306" font-size="11">regulatory</text>
 <text class="fd" x="512" y="306" font-size="13" style="fill:#f2c8a0">form</text>
 <text class="fd" x="493" y="321" font-size="10">disease</text>
 <text class="fd" x="583" y="312" font-size="15">autophagy</text>
 <text class="fd" x="533" y="329" font-size="13">damage</text>
 <text class="fd" x="812" y="305" font-size="11">necrosis</text>
 <text class="fd" x="823" y="350" font-size="9">rats</text>
 <text class="fd" x="527" y="368" font-size="11">stress</text>
 <text class="fd" x="570" y="368" font-size="15" opacity=".7">in-vitro</text>
 <text class="fd" x="825" y="372" font-size="12">cerebral ischemia</text>
 <text class="fd" x="613" y="412" font-size="14">inhibition</text>
 <text class="fd" x="583" y="425" font-size="11" opacity=".6">hemoglobin</text>
 <text class="fd" x="645" y="433" font-size="12">cystine/glutamate antiporter</text>
 <text class="fd" x="890" y="437" font-size="11">toxicity</text>
 <text class="fd" x="518" y="443" font-size="11">cerebral hemorrhage</text>
 <text class="fd" x="720" y="452" font-size="11">molecular mechanisms</text>
 <text class="fd" x="643" y="458" font-size="12.5">brain-damage</text>
 <text class="fd" x="578" y="465" font-size="10" opacity=".7">accumulation</text>
 <text class="fd" x="765" y="480" font-size="13">iron homeostasis</text>
 <text class="fd" x="618" y="483" font-size="12">iron accumulation</text>
 <text class="fd" x="700" y="502" font-size="11">deferoxamine</text>
</g>

<!-- ============ LABELS ============ -->
<g id="labels">
 <text class="lb" x="170" y="56" font-size="13.5">programmed cell death</text>
 <text class="lb" x="216" y="137" font-size="16.5">necroptosis</text>
 <text class="lb" x="57" y="176" font-size="13.5">mouse model</text>
 <text class="lb" x="216" y="166" font-size="12.5">pyroptosis</text>
 <text class="lb" x="115" y="236" font-size="15">brain-injury</text>
 <text class="lb" x="230" y="234" font-size="17" style="fill:#7d8da0">apoptosis</text>
 <text class="lb" x="322" y="228" font-size="22">iron</text>
 <text class="lb" x="252" y="266" font-size="27">ferroptosis</text>
 <text class="lb" x="18" y="328" font-size="13">cell death</text>
 <text class="lb" x="118" y="346" font-size="19">lipid-peroxidation</text>
 <text class="lb" x="5" y="378" font-size="12">atherosclerosis</text>
 <text class="lb" x="107" y="401" font-size="22">cell-death</text>
 <text class="lb" x="266" y="409" font-size="16">autophagy</text>
 <text class="lb" x="366" y="496" font-size="14.5">expression</text>
 <text class="lb" x="285" y="511" font-size="12.5">form</text>

 <text class="lb" x="487" y="28" font-size="17">cell-death</text>
 <text class="lb" x="578" y="128" font-size="17">oxidative stress</text>
 <text class="lb" x="765" y="80" font-size="11">apoptosis-inducing factor</text>
 <text class="lb" x="775" y="115" font-size="11">nlrp3 inflammasome activation</text>
 <text class="lb" x="812" y="142" font-size="11">nlrp3 inflammasome</text>
 <text class="lb" x="722" y="274" font-size="10">ros</text>

 <text class="lb" x="686" y="321" font-size="24">ferroptosis</text>
 <text class="lb" x="810" y="331" font-size="15">ischemic stroke</text>
 <text class="lb" x="513" y="394" font-size="13">expression</text>
 <text class="lb" x="710" y="405" font-size="15">metabolism</text>
 <text class="lb" x="633" y="515" font-size="11">hemin</text>
 <text class="lb" x="585" y="539" font-size="11">chinese herbal medicine</text>
</g>
</svg>
